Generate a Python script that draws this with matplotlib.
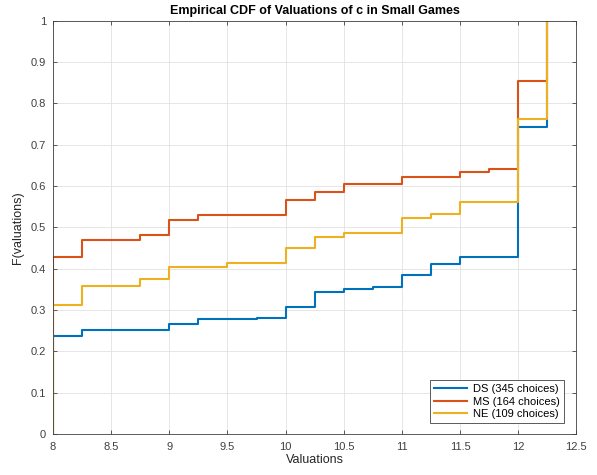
import numpy as np
import matplotlib.pyplot as plt

plt.rcParams['font.family'] = ['Liberation Sans', 'DejaVu Sans']

# support points of the valuations and ECDF value at each point
valuations = [8, 8.25, 8.5, 8.75, 9, 9.25, 9.5, 9.75, 10, 10.25, 10.5, 10.75,
              11, 11.25, 11.5, 11.75, 12, 12.25]
ds_cdf = [0.236, 0.251, 0.251, 0.251, 0.266, 0.278, 0.278, 0.281, 0.306, 0.344,
          0.350, 0.355, 0.384, 0.412, 0.427, 0.427, 0.742, 1.0]
ms_cdf = [0.427, 0.470, 0.470, 0.482, 0.518, 0.530, 0.530, 0.530, 0.567, 0.585,
          0.604, 0.604, 0.622, 0.622, 0.634, 0.640, 0.854, 1.0]
ne_cdf = [0.312, 0.358, 0.358, 0.376, 0.404, 0.404, 0.413, 0.413, 0.450, 0.477,
          0.486, 0.486, 0.523, 0.532, 0.560, 0.560, 0.761, 1.0]

labels = ['DS (345 choices)', 'MS (164 choices)', 'NE (109 choices)']
colors = ['#0072BD', '#D95319', '#EDB120']

fig = plt.figure(figsize=(5.97, 4.75), dpi=100)
ax = fig.add_axes([0.0888, 0.0863, 0.8765, 0.8705])

for cdf, lab, col in zip([ds_cdf, ms_cdf, ne_cdf], labels, colors):
    # start the staircase at F=0 on the first valuation, then step up
    x = [valuations[0]] + list(valuations)
    y = [0.0] + list(cdf)
    ax.step(x, y, where='post', color=col, lw=1.5, label=lab)

ax.set_xlim(8, 12.5)
ax.set_ylim(0, 1)
ax.set_xticks(np.arange(8, 12.51, 0.5))
ax.set_xticklabels(['8', '8.5', '9', '9.5', '10', '10.5', '11', '11.5', '12', '12.5'])
ax.set_yticks(np.arange(0, 1.01, 0.1))
ax.set_yticklabels(['0', '0.1', '0.2', '0.3', '0.4', '0.5', '0.6', '0.7', '0.8', '0.9', '1'])

ax.grid(True, color='#e2e2e2', lw=0.6)
ax.set_axisbelow(True)
ax.tick_params(direction='in', top=True, right=True, length=3, width=0.6,
               labelsize=8, colors='#404040')
ax.tick_params(axis='x', pad=6)
ax.tick_params(axis='y', pad=5)
for s in ax.spines.values():
    s.set_color('#404040')
    s.set_linewidth(0.6)

ax.set_xlabel('Valuations', fontsize=9, color='#262626', labelpad=1)
ax.set_ylabel('F(valuations)', fontsize=9, color='#262626', labelpad=5)
ax.set_title('Empirical CDF of Valuations of c in Small Games',
             fontsize=9, fontweight='bold', pad=5)

leg = ax.legend(loc='lower right', bbox_to_anchor=(0.976, 0.026), fontsize=8,
                fancybox=False, framealpha=1, edgecolor='#404040',
                handlelength=3.0, borderpad=0.35, labelspacing=0.25,
                handletextpad=0.5, borderaxespad=0)
leg.get_frame().set_linewidth(0.6)

fig.savefig('out.png', dpi=100)
